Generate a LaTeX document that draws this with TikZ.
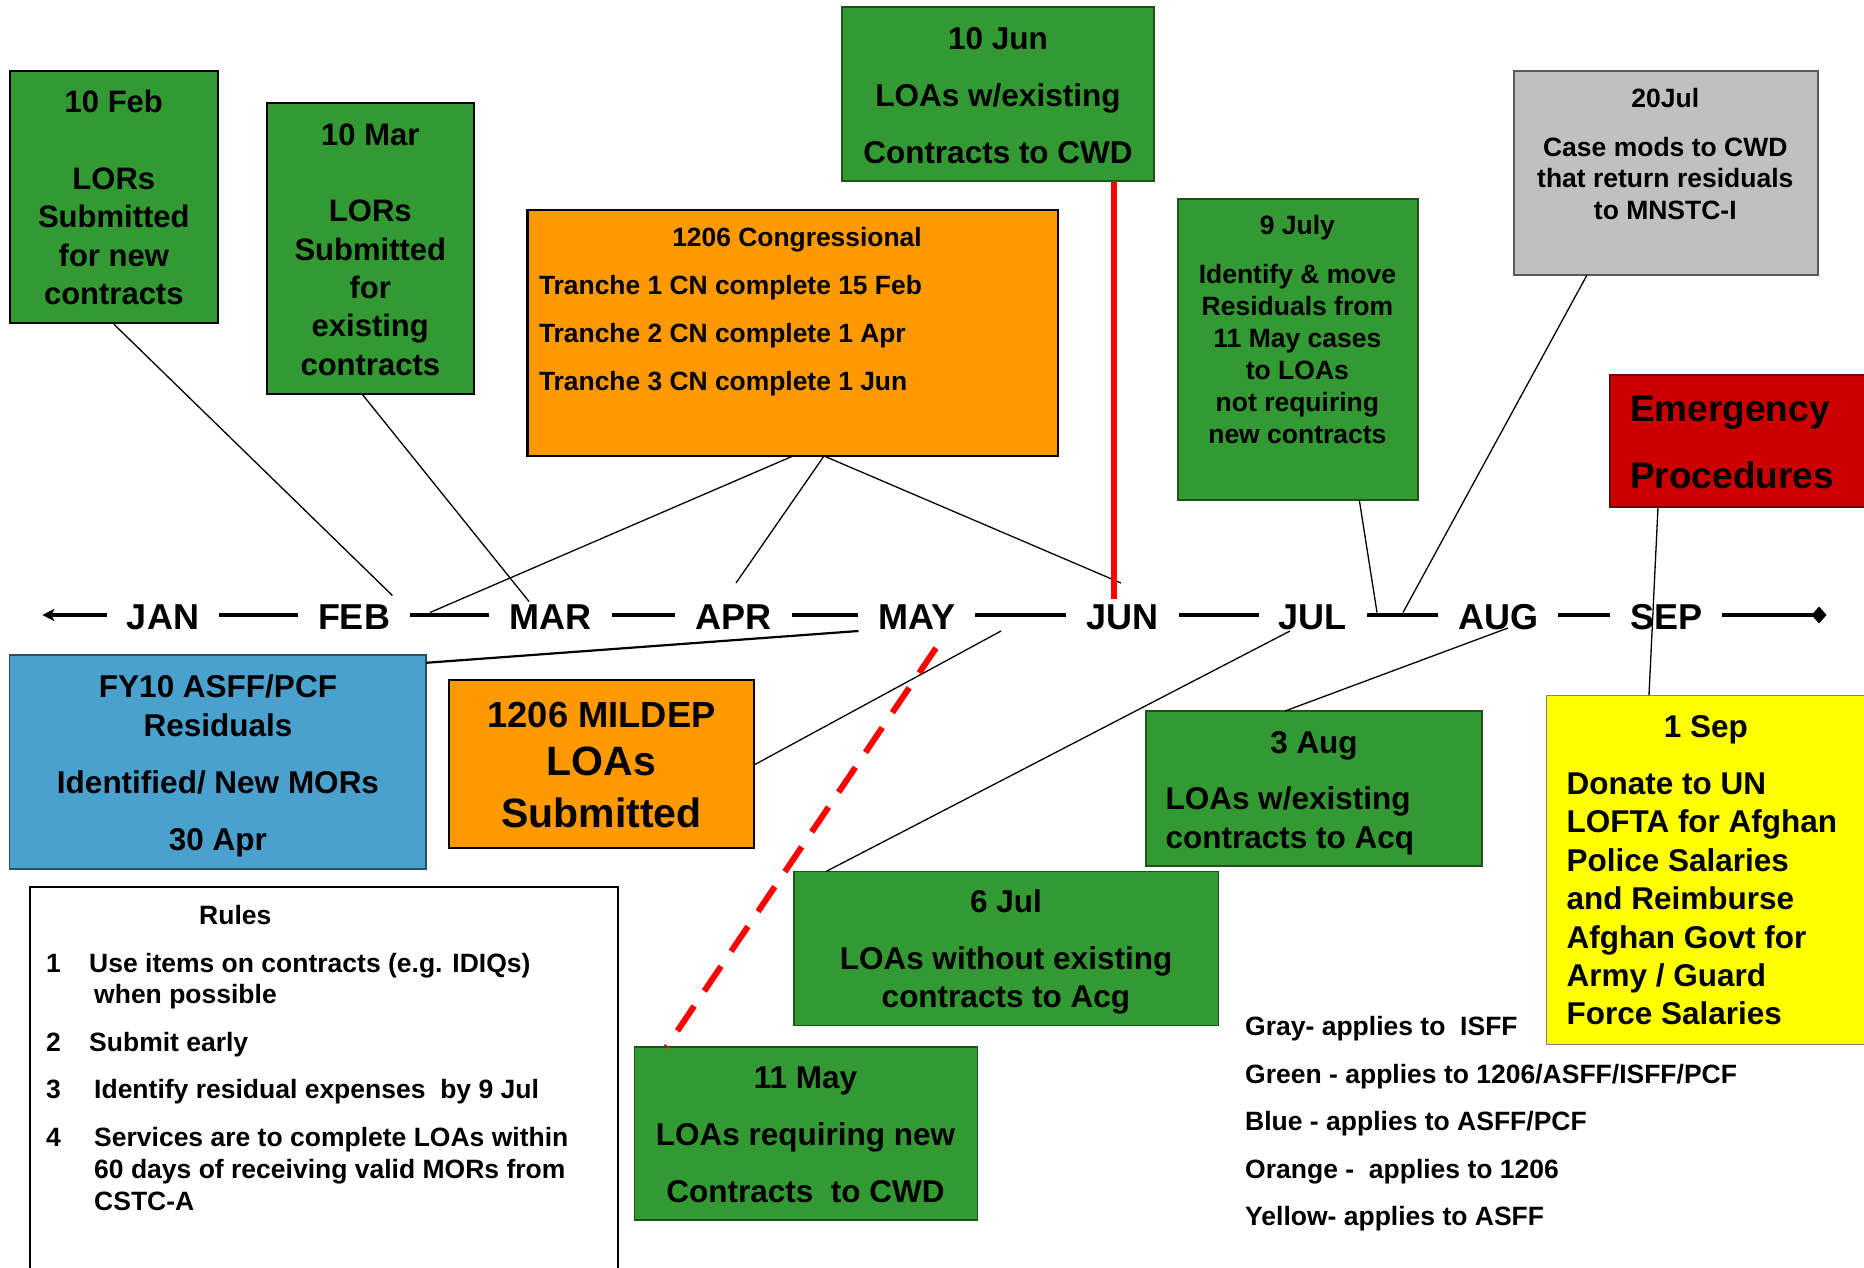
\documentclass[tikz,border=0pt]{standalone}
\usepackage{fontspec}
\setmainfont{Liberation Sans}
\usetikzlibrary{fit,arrows.meta}
\definecolor{cgreen}{RGB}{51,153,51}
\definecolor{corange}{RGB}{255,153,0}
\definecolor{cblue}{RGB}{74,161,206}
\definecolor{cgray}{RGB}{192,192,192}
\definecolor{cred}{RGB}{204,0,0}
\definecolor{cyellow}{RGB}{255,255,0}
\newcommand\fsz[2]{\fontsize{#1}{#2}\selectfont\bfseries}
\newcommand\st[1]{\rule{0pt}{#1pt}}
\begin{document}
\begin{tikzpicture}[x=1pt,y=-1pt,
  box/.style={rectangle, inner sep=0pt},
  gbox/.style={box, fill=cgreen, draw=cgreen!55!black, line width=1.3pt},
  kgbox/.style={box, fill=cgreen, draw=black, line width=2.2pt},
  obox/.style={box, fill=corange, draw=black, line width=2.2pt},
  txt/.style={inner sep=0pt, text=black},
  t26/.style={txt, font=\fsz{26.5}{32}},
  t31/.style={txt, font=\fsz{31.5}{38}},
  link/.style={line width=1.3pt, draw=black},
  month/.style={font=\fsz{36}{43}, anchor=base, inner xsep=20pt, inner ysep=0pt},
  tl/.style={line width=4.5pt, draw=black},
  tipL/.style={-{Stealth[length=12pt,width=12pt,inset=3pt]}},
  tipR/.style={-{Diamond[length=15pt,width=17pt]}},
]
\path[use as bounding box] (0,0) rectangle (1864,1268);
\fill[white] (0,0) rectangle (1864,1268);
\clip (0,0) rectangle (1864,1268);

% ---------- boxes ----------
\node[kgbox, fit={(9.6,71) (218,323)}] (feb) {};
\node[kgbox, fit={(266.6,102.7) (474,394)}] (mar) {};
\node[obox, fit={(527.5,210) (1058,456)}] (cong) {};
\node[gbox, fit={(842,7) (1154,181)}] (jun) {};
\node[gbox, fit={(1178,199) (1418,500)}] (jul9) {};
\node[box, fill=cgray, draw=gray!70!black, line width=1.5pt, fit={(1514,71) (1818,275)}] (jul20) {};
\node[box, fill=cred, draw=cred!60!black, line width=1.3pt, fit={(1610,375) (1875,507)}] (emer) {};
\node[box, fill=cblue, draw=cblue!50!black, line width=1.3pt, fit={(9.6,655) (426,869)}] (fy10) {};
\node[obox, fit={(449,680) (754,848)}] (mildep) {};
\node[gbox, fit={(794,871.5) (1218.5,1025.5)}] (jul6) {};
\node[gbox, fit={(1146,711) (1482,866)}] (aug3) {};
\node[box, fill=cyellow, draw=gray, line width=1pt, fit={(1546,695) (1875,1044)}] (sep1) {};
\node[gbox, fit={(634.6,1047) (977.5,1220)}] (may11) {};
\node[box, draw=black, line width=2pt, fit={(30,887) (618,1300)}] (rules) {};

% ---------- months ----------
\coordinate (tlL) at (42.3,615);
\coordinate (tlR) at (1826.5,615);
\begin{scope}[yshift=-1pt]
\node[month] (jan) at (163,628.3) {JAN};
\node[month] (febm) at (354,628.3) {FEB};
\node[month] (marm) at (550.5,628.3) {MAR};
\node[month] (aprm) at (733.6,628.3) {APR};
\node[month] (maym) at (916.7,628.3) {MAY};
\node[month] (junm) at (1122.5,628.3) {JUN};
\node[month] (julm) at (1312.7,628.3) {JUL};
\node[month] (augm) at (1498,628.3) {AUG};
\node[month] (sepm) at (1666,628.3) {SEP};
\end{scope}
\draw[tl,tipL] (jan.west |- tlL) -- (tlL);
\draw[tl] (jan.east |- tlL) -- (febm.west |- tlL);
\draw[tl] (febm.east |- tlL) -- (marm.west |- tlL);
\draw[tl] (marm.east |- tlL) -- (aprm.west |- tlL);
\draw[tl] (aprm.east |- tlL) -- (maym.west |- tlL);
\draw[tl] (maym.east |- tlL) -- (junm.west |- tlL);
\draw[tl] (junm.east |- tlL) -- (julm.west |- tlL);
\draw[tl] (julm.east |- tlL) -- (augm.west |- tlL);
\draw[tl] (augm.east |- tlL) -- (sepm.west |- tlL);
\draw[tl,tipR] (sepm.east |- tlL) -- (tlR);

% ---------- connectors ----------
\coordinate (a1) at (392.4,595.5);
\coordinate (s2) at (362,394);   \coordinate (a2) at (529,601.5);
\coordinate (s3) at (793,456);   \coordinate (a3) at (430,612.5);
\coordinate (s4) at (824,456);   \coordinate (a4) at (736,583);  \coordinate (a5) at (1121,583);
\coordinate (s7) at (1359.3,500); \coordinate (a7) at (1377,612.5);
\coordinate (s8) at (1587,275);  \coordinate (a8) at (1403,612.5);
\coordinate (s9) at (1658,507);  \coordinate (e9) at (1649,695);
\coordinate (s10) at (426,662.8); \coordinate (a10) at (858.5,631);
\coordinate (s11) at (754,765);  \coordinate (a11) at (1001,631);
\coordinate (s12) at (826,871.5); \coordinate (a12) at (1290,631);
\coordinate (s13) at (1285,711); \coordinate (a13) at (1508,628);
\coordinate (s6) at (1114,181);  \coordinate (a6) at (1114,599);
\coordinate (s14) at (936,648);  \coordinate (e14) at (666.5,1047);

\draw[link] (feb.south) -- (a1);
\draw[link] (s2) -- (a2);
\draw[link] (s3) -- (a3);
\draw[link] (s4) -- (a4);
\draw[link] (s4) -- (a5);
\draw[link] (s7) -- (a7);
\draw[link] (s8) -- (a8);
\draw[link] (s9) -- (e9);
\draw[link, line width=2.2pt] (s10) -- (a10);
\draw[link] (s11) -- (a11);
\draw[link] (s12) -- (a12);
\draw[link] (s13) -- (a13);
\draw[red, line width=6.5pt] (s6) -- (a6);
\draw[red, line width=6pt, dash pattern=on 30pt off 18pt] (s14) -- (e14);

% ---------- texts ----------
\begin{scope}[yshift=-1pt]
\node[txt, align=center, anchor=north, font=\fsz{31}{38.3}] (febt) at (113.8,80.7)
  {\st{31}10 Feb\\[38.3pt]LORs\\Submitted\\for new\\contracts};
\node[txt, align=center, anchor=north, font=\fsz{31}{38.3}] (mart) at (370.3,113)
  {\st{31}10 Mar\\[38.3pt]LORs\\Submitted\\for\\existing\\contracts};
\node[txt, anchor=base, font=\fsz{26.4}{32}] (congt) at (797,246) {1206 Congressional};
\node[txt, align=left, anchor=north west, font=\fsz{26.4}{48}] (congl) at (538.8,266.9)
  {\st{26.4}Tranche 1 CN complete 15 Feb\\Tranche 2 CN complete 1 Apr\\Tranche 3 CN complete 1 Jun};
\node[txt, align=center, anchor=north, font=\fsz{31.5}{57.2}] (junt) at (998,16.8)
  {\st{31.5}10 Jun\\LOAs w/existing\\Contracts to CWD};
\node[txt, align=center, anchor=north, font=\fsz{26.5}{32}] (jul9t) at (1297.4,206.8)
  {\st{26.5}9 July\\[17.4pt]Identify \& move\\Residuals from\\11 May cases\\to LOAs\\not requiring\\new contracts};
\node[txt, align=center, anchor=north, font=\fsz{26.5}{31.7}] (jul20t) at (1665.3,80.2)
  {\st{26.5}20Jul\\[16.6pt]Case mods to CWD\\that return residuals\\to MNSTC-I};
\node[txt, align=left, anchor=north west, font=\fsz{37}{66.6}] (emert) at (1630,383.7)
  {\st{37}Emergency\\Procedures};
\node[txt, align=center, anchor=north, font=\fsz{31.5}{39}] (fy10t) at (218,664.5)
  {\st{31.5}FY10 ASFF/PCF\\Residuals\\[18pt]Identified/ New MORs\\[18pt]30 Apr};
\node[txt, align=center, anchor=north, font=\fsz{41}{50}] (mildept) at (601.5,685)
  {{\st{41}\fontsize{36.3}{50}\selectfont 1206 MILDEP}\\[-2pt]LOAs\\[2pt]Submitted};
\node[txt, align=center, anchor=north, font=\fsz{31.5}{38}] (jul6t) at (1006,879.5)
  {\st{31.5}6 Jul\\[19.4pt]LOAs without existing\\contracts to Acg};
\node[t31, anchor=base] (aug3t) at (1314,752) {3 Aug};
\node[txt, align=left, anchor=north west, font=\fsz{31.5}{39.3}] (aug3l) at (1165.3,776.7)
  {\st{31.5}LOAs w/existing\\contracts to Acq};
\node[t31, anchor=base] (sep1t) at (1705.8,736) {1 Sep};
\node[txt, align=left, anchor=north west, font=\fsz{31.5}{38.45}] (sep1l) at (1566.4,761.5)
  {\st{31.5}Donate to UN\\LOFTA for Afghan\\Police Salaries\\and Reimburse\\Afghan Govt for\\Army / Guard\\Force Salaries};
\node[txt, align=center, anchor=north, font=\fsz{31.5}{57}] (may11t) at (805.5,1055.8)
  {\st{31.5}11 May\\LOAs requiring new\\Contracts\ \ to CWD};

% rules
\node[t26, anchor=base] (rulest) at (235.3,923) {Rules};
\node[t26, anchor=base west] (n1) at (46,971.2) {1};
\node[t26, anchor=base west] (n2) at (46,1050.5) {2};
\node[t26, anchor=base west] (n3) at (46,1097.3) {3};
\node[t26, anchor=base west] (n4) at (46,1145.4) {4};
\node[txt, align=left, anchor=north west, font=\fsz{26.5}{31.2}] (r1) at (89,944.7)
  {\st{26.5}Use items on contracts (e.g. IDIQs)\\\hspace*{5pt}when possible};
\node[t26, anchor=base west] (r2) at (89,1050.5) {Submit early};
\node[t26, anchor=base west] (r3) at (94,1097.3) {Identify residual expenses\ \ by 9 Jul};
\node[txt, align=left, anchor=north west, font=\fsz{26.5}{32}] (r4) at (94,1118.9)
  {\st{26.5}Services are to complete LOAs within\\60 days of receiving valid MORs from\\CSTC-A};

% legend
\node[t26, anchor=base west] (lg1) at (1245,1034.5) {Gray- applies to\ \ ISFF};
\node[t26, anchor=base west] (lg2) at (1245,1082.5) {Green - applies to 1206/ASFF/ISFF/PCF};
\node[t26, anchor=base west] (lg3) at (1245,1129.4) {Blue - applies to ASFF/PCF};
\node[t26, anchor=base west] (lg4) at (1245,1177.4) {Orange -\ \ applies to 1206};
\node[t26, anchor=base west] (lg5) at (1245,1224.7) {Yellow- applies to ASFF};
\end{scope}
\end{tikzpicture}
\end{document}
